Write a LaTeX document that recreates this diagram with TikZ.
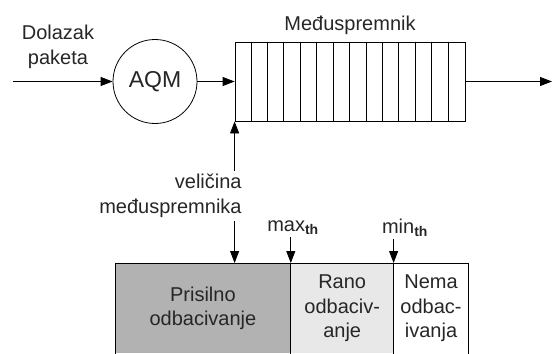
\documentclass[tikz,border=0pt]{standalone}
\usepackage{fontspec}
\setmainfont{Liberation Sans}
\usetikzlibrary{arrows.meta,positioning}
\definecolor{prisilnogray}{RGB}{178,178,178}
\definecolor{ranogray}{RGB}{232,232,232}
\tikzset{
  arr/.style={-{Triangle[length=12pt,width=9pt]}},
  lbl/.style={font=\fontsize{20}{24.5}\selectfont, text=black!85, inner sep=0pt, align=center},
  zone/.style={lbl, minimum height=90pt, anchor=north west}
}
\begin{document}
\begin{tikzpicture}
        [x=1pt, y=-1pt, line width=0.8pt]
        \useasboundingbox (0,0) rectangle (553,353);
        \clip (0,0) rectangle (553,353);
        % queue
        \node[lbl] (dolazak) at (58,47) {Dolazak\\paketa};
        \coordinate (in) at (13,81.5);
        \node[draw, circle, minimum size=84pt, lbl, font=\fontsize{23}{26}\selectfont] (aqm) at (155,81.5) {AQM};
        \node[draw, minimum width=230pt, minimum height=79pt] (buf) at (350,81.5) {};
        \foreach \i in {1,...,13}
            \draw ([xshift=\i*230/14 pt]buf.north west) -- ([xshift=\i*230/14 pt]buf.south west);
        \node[lbl, above=7pt of buf] (bufname) {Međuspremnik};
        \coordinate (out) at (552,81.5);
        \draw[arr] (in) -- (aqm);
        \draw[arr] (aqm) -- (buf);
        \draw[arr] (buf) -- (out);
        % zones
        \node[zone, fill=prisilnogray, minimum width=175pt] (prisilno) at (115,263) {Prisilno\\odbacivanje};
        \node[zone, fill=ranogray, minimum width=102pt, right=0pt of prisilno] (rano) {Rano\\odbaciv-\\anje};
        \node[zone, minimum width=74pt, right=0pt of rano] (nema) {Nema\\odbac-\\ivanja};
        \draw (prisilno.south west) |- (nema.north east) -- (nema.south east);
        \draw (rano.north west) -- (rano.south west);
        \draw (nema.north west) -- (nema.south west);
        % thresholds
        \node[lbl, align=right, anchor=east, inner sep=3pt] (velicina) at (245,196) {veličina\\međuspremnika};
        \draw[arr] (velicina.north -| buf.south west) -- (buf.south west);
        \draw[arr] (velicina.south -| buf.south west) -- (buf.south west |- prisilno.north);
        \node[lbl, inner sep=2pt] (maxth) at (293,228) {max\textsubscript{\textbf{th}}};
        \draw[arr] (maxth.south -| rano.north west) -- (rano.north west);
        \node[lbl, inner sep=2pt] (minth) at (405,228) {min\textsubscript{\textbf{th}}};
        \draw[arr] (minth.south -| nema.north west) -- (nema.north west);
\end{tikzpicture}
\end{document}
